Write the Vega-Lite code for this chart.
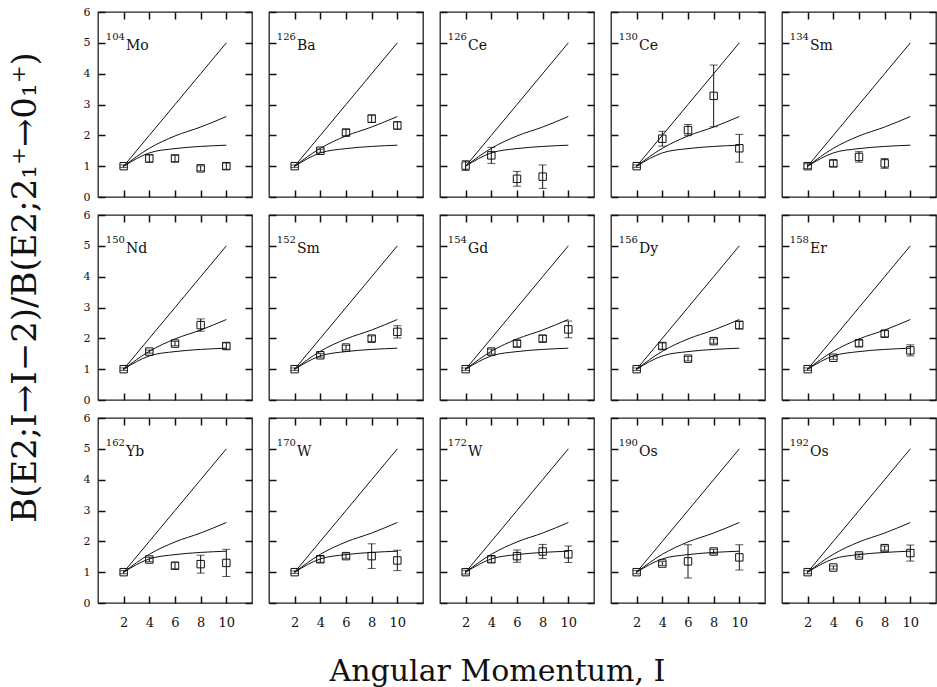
{
"$schema": "https://vega.github.io/schema/vega-lite/v6.json",
"padding": {"left": 7, "top": 5, "right": 0, "bottom": 0},
"background": "white",
"datasets": {
"theory": [
{"model":"U5","I":2,"ratio":1},{"model":"U5","I":4,"ratio":2},{"model":"U5","I":6,"ratio":3},{"model":"U5","I":8,"ratio":4},{"model":"U5","I":10,"ratio":5},
{"model":"X5","I":2,"ratio":1},{"model":"X5","I":4,"ratio":1.58},{"model":"X5","I":6,"ratio":1.98},{"model":"X5","I":8,"ratio":2.27},{"model":"X5","I":10,"ratio":2.61},
{"model":"SU3","I":2,"ratio":1},{"model":"SU3","I":4,"ratio":1.43},{"model":"SU3","I":6,"ratio":1.57},{"model":"SU3","I":8,"ratio":1.64},{"model":"SU3","I":10,"ratio":1.68}
],
"exp": [
{"nuc":"104Mo","I":2,"ratio":1.0,"err":0.04},{"nuc":"104Mo","I":4,"ratio":1.25,"err":0.12},{"nuc":"104Mo","I":6,"ratio":1.25,"err":0.1},{"nuc":"104Mo","I":8,"ratio":0.93,"err":0.08},{"nuc":"104Mo","I":10,"ratio":1.0,"err":0.1},
{"nuc":"126Ba","I":2,"ratio":1.0,"err":0.04},{"nuc":"126Ba","I":4,"ratio":1.5,"err":0.05},{"nuc":"126Ba","I":6,"ratio":2.09,"err":0.1},{"nuc":"126Ba","I":8,"ratio":2.54,"err":0.12},{"nuc":"126Ba","I":10,"ratio":2.32,"err":0.12},
{"nuc":"126Ce","I":2,"ratio":1.02,"err":0.16},{"nuc":"126Ce","I":4,"ratio":1.35,"err":0.26},{"nuc":"126Ce","I":6,"ratio":0.59,"err":0.24},{"nuc":"126Ce","I":8,"ratio":0.66,"err":0.38},
{"nuc":"130Ce","I":2,"ratio":1.0,"err":0.04},{"nuc":"130Ce","I":4,"ratio":1.89,"err":0.24},{"nuc":"130Ce","I":6,"ratio":2.17,"err":0.18},{"nuc":"130Ce","I":8,"ratio":3.28,"err":1.0},{"nuc":"130Ce","I":10,"ratio":1.58,"err":0.45},
{"nuc":"134Sm","I":2,"ratio":1.0,"err":0.08},{"nuc":"134Sm","I":4,"ratio":1.09,"err":0.1},{"nuc":"134Sm","I":6,"ratio":1.3,"err":0.17},{"nuc":"134Sm","I":8,"ratio":1.09,"err":0.16},
{"nuc":"150Nd","I":2,"ratio":1.0,"err":0.04},{"nuc":"150Nd","I":4,"ratio":1.57,"err":0.05},{"nuc":"150Nd","I":6,"ratio":1.83,"err":0.07},{"nuc":"150Nd","I":8,"ratio":2.43,"err":0.2},{"nuc":"150Nd","I":10,"ratio":1.75,"err":0.1},
{"nuc":"152Sm","I":2,"ratio":1.0,"err":0.04},{"nuc":"152Sm","I":4,"ratio":1.45,"err":0.06},{"nuc":"152Sm","I":6,"ratio":1.7,"err":0.07},{"nuc":"152Sm","I":8,"ratio":1.99,"err":0.09},{"nuc":"152Sm","I":10,"ratio":2.21,"err":0.2},
{"nuc":"154Gd","I":2,"ratio":1.0,"err":0.04},{"nuc":"154Gd","I":4,"ratio":1.57,"err":0.08},{"nuc":"154Gd","I":6,"ratio":1.83,"err":0.1},{"nuc":"154Gd","I":8,"ratio":1.99,"err":0.1},{"nuc":"154Gd","I":10,"ratio":2.29,"err":0.27},
{"nuc":"156Dy","I":2,"ratio":1.0,"err":0.04},{"nuc":"156Dy","I":4,"ratio":1.75,"err":0.1},{"nuc":"156Dy","I":6,"ratio":1.34,"err":0.07},{"nuc":"156Dy","I":8,"ratio":1.91,"err":0.07},{"nuc":"156Dy","I":10,"ratio":2.43,"err":0.13},
{"nuc":"158Er","I":2,"ratio":1.0,"err":0.04},{"nuc":"158Er","I":4,"ratio":1.37,"err":0.05},{"nuc":"158Er","I":6,"ratio":1.84,"err":0.1},{"nuc":"158Er","I":8,"ratio":2.15,"err":0.1},{"nuc":"158Er","I":10,"ratio":1.61,"err":0.18},
{"nuc":"162Yb","I":2,"ratio":1.0,"err":0.05},{"nuc":"162Yb","I":4,"ratio":1.41,"err":0.07},{"nuc":"162Yb","I":6,"ratio":1.21,"err":0.1},{"nuc":"162Yb","I":8,"ratio":1.26,"err":0.29},{"nuc":"162Yb","I":10,"ratio":1.3,"err":0.44},
{"nuc":"170W","I":2,"ratio":1.0,"err":0.04},{"nuc":"170W","I":4,"ratio":1.42,"err":0.1},{"nuc":"170W","I":6,"ratio":1.52,"err":0.07},{"nuc":"170W","I":8,"ratio":1.52,"err":0.4},{"nuc":"170W","I":10,"ratio":1.38,"err":0.33},
{"nuc":"172W","I":2,"ratio":1.0,"err":0.06},{"nuc":"172W","I":4,"ratio":1.42,"err":0.1},{"nuc":"172W","I":6,"ratio":1.52,"err":0.2},{"nuc":"172W","I":8,"ratio":1.67,"err":0.23},{"nuc":"172W","I":10,"ratio":1.58,"err":0.27},
{"nuc":"190Os","I":2,"ratio":1.0,"err":0.05},{"nuc":"190Os","I":4,"ratio":1.28,"err":0.06},{"nuc":"190Os","I":6,"ratio":1.35,"err":0.54},{"nuc":"190Os","I":8,"ratio":1.67,"err":0.07},{"nuc":"190Os","I":10,"ratio":1.48,"err":0.41},
{"nuc":"192Os","I":2,"ratio":1.0,"err":0.05},{"nuc":"192Os","I":4,"ratio":1.15,"err":0.05},{"nuc":"192Os","I":6,"ratio":1.54,"err":0.05},{"nuc":"192Os","I":8,"ratio":1.78,"err":0.07},{"nuc":"192Os","I":10,"ratio":1.62,"err":0.26}
]
},
"config": {
"view": {"stroke": "#222", "strokeWidth": 1.3},
"font": "DejaVu Serif",
"axis": {"grid": false, "domain": false, "offset": -7, "tickSize": 7, "tickWidth": 1.5, "tickColor": "#111", "labelFont": "DejaVu Serif", "labelColor": "#111", "titleFont": "DejaVu Serif", "titleFontWeight": "normal", "titleColor": "#111"},
"axisX": {"labelFontSize": 13, "labelPadding": 13},
"axisY": {"labelFontSize": 11, "labelPadding": 8}
},
"columns": 5,
"bounds": "flush",
"spacing": {"row": 18, "column": 17},
"concat": [
{"width":154,"height":185,"resolve":{"axis":{"x":"independent","y":"independent"}},"layer":[
{"data":{"name":"theory"},"mark":{"type":"line","interpolate":"monotone","color":"#111","strokeWidth":1},"encoding":{"x":{"field":"I","type":"quantitative","scale":{"domain":[0,12]},"axis":{"orient":"bottom","zindex":1,"values":[2,4,6,8,10],"labels":false,"title":null}},"y":{"field":"ratio","type":"quantitative","scale":{"domain":[0,6]},"axis":{"orient":"left","zindex":1,"values":[0,1,2,3,4,5,6],"labels":true,"title":null}},"detail":{"field":"model"}}},
{"data":{"name":"exp"},"transform":[{"filter":"datum.nuc == '104Mo'"}],"mark":{"type":"errorbar","color":"#111","thickness":1,"ticks":{"size":8,"color":"#111"}},"encoding":{"x":{"field":"I","type":"quantitative","scale":{"domain":[0,12]},"axis":null},"y":{"field":"ratio","type":"quantitative","scale":{"domain":[0,6]},"axis":null},"yError":{"field":"err"}}},
{"data":{"name":"exp"},"transform":[{"filter":"datum.nuc == '104Mo'"}],"mark":{"type":"point","shape":"square","filled":false,"size":55,"color":"#111","strokeWidth":1,"opacity":1},"encoding":{"x":{"field":"I","type":"quantitative","scale":{"domain":[0,12]},"axis":{"orient":"top","zindex":1,"values":[2,4,6,8,10],"labels":false,"title":null}},"y":{"field":"ratio","type":"quantitative","scale":{"domain":[0,6]},"axis":{"orient":"right","zindex":1,"values":[0,1,2,3,4,5,6],"labels":false,"title":null}}}},
{"data":{"values":[{}]},"mark":{"type":"text","text":"104","fontSize":10,"align":"right","baseline":"alphabetic","color":"#111"},"encoding":{"x":{"datum":2.1,"type":"quantitative","scale":{"domain":[0,12]},"axis":null},"y":{"datum":5.08,"type":"quantitative","scale":{"domain":[0,6]},"axis":null}}},
{"data":{"values":[{}]},"mark":{"type":"text","text":"Mo","fontSize":14,"align":"left","baseline":"alphabetic","color":"#111","dx":1},"encoding":{"x":{"datum":2.1,"type":"quantitative","scale":{"domain":[0,12]},"axis":null},"y":{"datum":4.76,"type":"quantitative","scale":{"domain":[0,6]},"axis":null}}}
]},
{"width":154,"height":185,"resolve":{"axis":{"x":"independent","y":"independent"}},"layer":[
{"data":{"name":"theory"},"mark":{"type":"line","interpolate":"monotone","color":"#111","strokeWidth":1},"encoding":{"x":{"field":"I","type":"quantitative","scale":{"domain":[0,12]},"axis":{"orient":"bottom","zindex":1,"values":[2,4,6,8,10],"labels":false,"title":null}},"y":{"field":"ratio","type":"quantitative","scale":{"domain":[0,6]},"axis":{"orient":"left","zindex":1,"values":[0,1,2,3,4,5,6],"labels":false,"title":null}},"detail":{"field":"model"}}},
{"data":{"name":"exp"},"transform":[{"filter":"datum.nuc == '126Ba'"}],"mark":{"type":"errorbar","color":"#111","thickness":1,"ticks":{"size":8,"color":"#111"}},"encoding":{"x":{"field":"I","type":"quantitative","scale":{"domain":[0,12]},"axis":null},"y":{"field":"ratio","type":"quantitative","scale":{"domain":[0,6]},"axis":null},"yError":{"field":"err"}}},
{"data":{"name":"exp"},"transform":[{"filter":"datum.nuc == '126Ba'"}],"mark":{"type":"point","shape":"square","filled":false,"size":55,"color":"#111","strokeWidth":1,"opacity":1},"encoding":{"x":{"field":"I","type":"quantitative","scale":{"domain":[0,12]},"axis":{"orient":"top","zindex":1,"values":[2,4,6,8,10],"labels":false,"title":null}},"y":{"field":"ratio","type":"quantitative","scale":{"domain":[0,6]},"axis":{"orient":"right","zindex":1,"values":[0,1,2,3,4,5,6],"labels":false,"title":null}}}},
{"data":{"values":[{}]},"mark":{"type":"text","text":"126","fontSize":10,"align":"right","baseline":"alphabetic","color":"#111"},"encoding":{"x":{"datum":2.1,"type":"quantitative","scale":{"domain":[0,12]},"axis":null},"y":{"datum":5.08,"type":"quantitative","scale":{"domain":[0,6]},"axis":null}}},
{"data":{"values":[{}]},"mark":{"type":"text","text":"Ba","fontSize":14,"align":"left","baseline":"alphabetic","color":"#111","dx":1},"encoding":{"x":{"datum":2.1,"type":"quantitative","scale":{"domain":[0,12]},"axis":null},"y":{"datum":4.76,"type":"quantitative","scale":{"domain":[0,6]},"axis":null}}}
]},
{"width":154,"height":185,"resolve":{"axis":{"x":"independent","y":"independent"}},"layer":[
{"data":{"name":"theory"},"mark":{"type":"line","interpolate":"monotone","color":"#111","strokeWidth":1},"encoding":{"x":{"field":"I","type":"quantitative","scale":{"domain":[0,12]},"axis":{"orient":"bottom","zindex":1,"values":[2,4,6,8,10],"labels":false,"title":null}},"y":{"field":"ratio","type":"quantitative","scale":{"domain":[0,6]},"axis":{"orient":"left","zindex":1,"values":[0,1,2,3,4,5,6],"labels":false,"title":null}},"detail":{"field":"model"}}},
{"data":{"name":"exp"},"transform":[{"filter":"datum.nuc == '126Ce'"}],"mark":{"type":"errorbar","color":"#111","thickness":1,"ticks":{"size":8,"color":"#111"}},"encoding":{"x":{"field":"I","type":"quantitative","scale":{"domain":[0,12]},"axis":null},"y":{"field":"ratio","type":"quantitative","scale":{"domain":[0,6]},"axis":null},"yError":{"field":"err"}}},
{"data":{"name":"exp"},"transform":[{"filter":"datum.nuc == '126Ce'"}],"mark":{"type":"point","shape":"square","filled":false,"size":55,"color":"#111","strokeWidth":1,"opacity":1},"encoding":{"x":{"field":"I","type":"quantitative","scale":{"domain":[0,12]},"axis":{"orient":"top","zindex":1,"values":[2,4,6,8,10],"labels":false,"title":null}},"y":{"field":"ratio","type":"quantitative","scale":{"domain":[0,6]},"axis":{"orient":"right","zindex":1,"values":[0,1,2,3,4,5,6],"labels":false,"title":null}}}},
{"data":{"values":[{}]},"mark":{"type":"text","text":"126","fontSize":10,"align":"right","baseline":"alphabetic","color":"#111"},"encoding":{"x":{"datum":2.1,"type":"quantitative","scale":{"domain":[0,12]},"axis":null},"y":{"datum":5.08,"type":"quantitative","scale":{"domain":[0,6]},"axis":null}}},
{"data":{"values":[{}]},"mark":{"type":"text","text":"Ce","fontSize":14,"align":"left","baseline":"alphabetic","color":"#111","dx":1},"encoding":{"x":{"datum":2.1,"type":"quantitative","scale":{"domain":[0,12]},"axis":null},"y":{"datum":4.76,"type":"quantitative","scale":{"domain":[0,6]},"axis":null}}}
]},
{"width":154,"height":185,"resolve":{"axis":{"x":"independent","y":"independent"}},"layer":[
{"data":{"name":"theory"},"mark":{"type":"line","interpolate":"monotone","color":"#111","strokeWidth":1},"encoding":{"x":{"field":"I","type":"quantitative","scale":{"domain":[0,12]},"axis":{"orient":"bottom","zindex":1,"values":[2,4,6,8,10],"labels":false,"title":null}},"y":{"field":"ratio","type":"quantitative","scale":{"domain":[0,6]},"axis":{"orient":"left","zindex":1,"values":[0,1,2,3,4,5,6],"labels":false,"title":null}},"detail":{"field":"model"}}},
{"data":{"name":"exp"},"transform":[{"filter":"datum.nuc == '130Ce'"}],"mark":{"type":"errorbar","color":"#111","thickness":1,"ticks":{"size":8,"color":"#111"}},"encoding":{"x":{"field":"I","type":"quantitative","scale":{"domain":[0,12]},"axis":null},"y":{"field":"ratio","type":"quantitative","scale":{"domain":[0,6]},"axis":null},"yError":{"field":"err"}}},
{"data":{"name":"exp"},"transform":[{"filter":"datum.nuc == '130Ce'"}],"mark":{"type":"point","shape":"square","filled":false,"size":55,"color":"#111","strokeWidth":1,"opacity":1},"encoding":{"x":{"field":"I","type":"quantitative","scale":{"domain":[0,12]},"axis":{"orient":"top","zindex":1,"values":[2,4,6,8,10],"labels":false,"title":null}},"y":{"field":"ratio","type":"quantitative","scale":{"domain":[0,6]},"axis":{"orient":"right","zindex":1,"values":[0,1,2,3,4,5,6],"labels":false,"title":null}}}},
{"data":{"values":[{}]},"mark":{"type":"text","text":"130","fontSize":10,"align":"right","baseline":"alphabetic","color":"#111"},"encoding":{"x":{"datum":2.1,"type":"quantitative","scale":{"domain":[0,12]},"axis":null},"y":{"datum":5.08,"type":"quantitative","scale":{"domain":[0,6]},"axis":null}}},
{"data":{"values":[{}]},"mark":{"type":"text","text":"Ce","fontSize":14,"align":"left","baseline":"alphabetic","color":"#111","dx":1},"encoding":{"x":{"datum":2.1,"type":"quantitative","scale":{"domain":[0,12]},"axis":null},"y":{"datum":4.76,"type":"quantitative","scale":{"domain":[0,6]},"axis":null}}}
]},
{"width":154,"height":185,"resolve":{"axis":{"x":"independent","y":"independent"}},"layer":[
{"data":{"name":"theory"},"mark":{"type":"line","interpolate":"monotone","color":"#111","strokeWidth":1},"encoding":{"x":{"field":"I","type":"quantitative","scale":{"domain":[0,12]},"axis":{"orient":"bottom","zindex":1,"values":[2,4,6,8,10],"labels":false,"title":null}},"y":{"field":"ratio","type":"quantitative","scale":{"domain":[0,6]},"axis":{"orient":"left","zindex":1,"values":[0,1,2,3,4,5,6],"labels":false,"title":null}},"detail":{"field":"model"}}},
{"data":{"name":"exp"},"transform":[{"filter":"datum.nuc == '134Sm'"}],"mark":{"type":"errorbar","color":"#111","thickness":1,"ticks":{"size":8,"color":"#111"}},"encoding":{"x":{"field":"I","type":"quantitative","scale":{"domain":[0,12]},"axis":null},"y":{"field":"ratio","type":"quantitative","scale":{"domain":[0,6]},"axis":null},"yError":{"field":"err"}}},
{"data":{"name":"exp"},"transform":[{"filter":"datum.nuc == '134Sm'"}],"mark":{"type":"point","shape":"square","filled":false,"size":55,"color":"#111","strokeWidth":1,"opacity":1},"encoding":{"x":{"field":"I","type":"quantitative","scale":{"domain":[0,12]},"axis":{"orient":"top","zindex":1,"values":[2,4,6,8,10],"labels":false,"title":null}},"y":{"field":"ratio","type":"quantitative","scale":{"domain":[0,6]},"axis":{"orient":"right","zindex":1,"values":[0,1,2,3,4,5,6],"labels":false,"title":null}}}},
{"data":{"values":[{}]},"mark":{"type":"text","text":"134","fontSize":10,"align":"right","baseline":"alphabetic","color":"#111"},"encoding":{"x":{"datum":2.1,"type":"quantitative","scale":{"domain":[0,12]},"axis":null},"y":{"datum":5.08,"type":"quantitative","scale":{"domain":[0,6]},"axis":null}}},
{"data":{"values":[{}]},"mark":{"type":"text","text":"Sm","fontSize":14,"align":"left","baseline":"alphabetic","color":"#111","dx":1},"encoding":{"x":{"datum":2.1,"type":"quantitative","scale":{"domain":[0,12]},"axis":null},"y":{"datum":4.76,"type":"quantitative","scale":{"domain":[0,6]},"axis":null}}}
]},
{"width":154,"height":185,"resolve":{"axis":{"x":"independent","y":"independent"}},"layer":[
{"data":{"name":"theory"},"mark":{"type":"line","interpolate":"monotone","color":"#111","strokeWidth":1},"encoding":{"x":{"field":"I","type":"quantitative","scale":{"domain":[0,12]},"axis":{"orient":"bottom","zindex":1,"values":[2,4,6,8,10],"labels":false,"title":null}},"y":{"field":"ratio","type":"quantitative","scale":{"domain":[0,6]},"axis":{"orient":"left","zindex":1,"values":[0,1,2,3,4,5,6],"labels":true,"title":"B(E2;I→I−2)/B(E2;2₁⁺→0₁⁺)","titleFontSize":34,"titlePadding":41,"titleY":72}},"detail":{"field":"model"}}},
{"data":{"name":"exp"},"transform":[{"filter":"datum.nuc == '150Nd'"}],"mark":{"type":"errorbar","color":"#111","thickness":1,"ticks":{"size":8,"color":"#111"}},"encoding":{"x":{"field":"I","type":"quantitative","scale":{"domain":[0,12]},"axis":null},"y":{"field":"ratio","type":"quantitative","scale":{"domain":[0,6]},"axis":null},"yError":{"field":"err"}}},
{"data":{"name":"exp"},"transform":[{"filter":"datum.nuc == '150Nd'"}],"mark":{"type":"point","shape":"square","filled":false,"size":55,"color":"#111","strokeWidth":1,"opacity":1},"encoding":{"x":{"field":"I","type":"quantitative","scale":{"domain":[0,12]},"axis":{"orient":"top","zindex":1,"values":[2,4,6,8,10],"labels":false,"title":null}},"y":{"field":"ratio","type":"quantitative","scale":{"domain":[0,6]},"axis":{"orient":"right","zindex":1,"values":[0,1,2,3,4,5,6],"labels":false,"title":null}}}},
{"data":{"values":[{}]},"mark":{"type":"text","text":"150","fontSize":10,"align":"right","baseline":"alphabetic","color":"#111"},"encoding":{"x":{"datum":2.1,"type":"quantitative","scale":{"domain":[0,12]},"axis":null},"y":{"datum":5.08,"type":"quantitative","scale":{"domain":[0,6]},"axis":null}}},
{"data":{"values":[{}]},"mark":{"type":"text","text":"Nd","fontSize":14,"align":"left","baseline":"alphabetic","color":"#111","dx":1},"encoding":{"x":{"datum":2.1,"type":"quantitative","scale":{"domain":[0,12]},"axis":null},"y":{"datum":4.76,"type":"quantitative","scale":{"domain":[0,6]},"axis":null}}}
]},
{"width":154,"height":185,"resolve":{"axis":{"x":"independent","y":"independent"}},"layer":[
{"data":{"name":"theory"},"mark":{"type":"line","interpolate":"monotone","color":"#111","strokeWidth":1},"encoding":{"x":{"field":"I","type":"quantitative","scale":{"domain":[0,12]},"axis":{"orient":"bottom","zindex":1,"values":[2,4,6,8,10],"labels":false,"title":null}},"y":{"field":"ratio","type":"quantitative","scale":{"domain":[0,6]},"axis":{"orient":"left","zindex":1,"values":[0,1,2,3,4,5,6],"labels":false,"title":null}},"detail":{"field":"model"}}},
{"data":{"name":"exp"},"transform":[{"filter":"datum.nuc == '152Sm'"}],"mark":{"type":"errorbar","color":"#111","thickness":1,"ticks":{"size":8,"color":"#111"}},"encoding":{"x":{"field":"I","type":"quantitative","scale":{"domain":[0,12]},"axis":null},"y":{"field":"ratio","type":"quantitative","scale":{"domain":[0,6]},"axis":null},"yError":{"field":"err"}}},
{"data":{"name":"exp"},"transform":[{"filter":"datum.nuc == '152Sm'"}],"mark":{"type":"point","shape":"square","filled":false,"size":55,"color":"#111","strokeWidth":1,"opacity":1},"encoding":{"x":{"field":"I","type":"quantitative","scale":{"domain":[0,12]},"axis":{"orient":"top","zindex":1,"values":[2,4,6,8,10],"labels":false,"title":null}},"y":{"field":"ratio","type":"quantitative","scale":{"domain":[0,6]},"axis":{"orient":"right","zindex":1,"values":[0,1,2,3,4,5,6],"labels":false,"title":null}}}},
{"data":{"values":[{}]},"mark":{"type":"text","text":"152","fontSize":10,"align":"right","baseline":"alphabetic","color":"#111"},"encoding":{"x":{"datum":2.1,"type":"quantitative","scale":{"domain":[0,12]},"axis":null},"y":{"datum":5.08,"type":"quantitative","scale":{"domain":[0,6]},"axis":null}}},
{"data":{"values":[{}]},"mark":{"type":"text","text":"Sm","fontSize":14,"align":"left","baseline":"alphabetic","color":"#111","dx":1},"encoding":{"x":{"datum":2.1,"type":"quantitative","scale":{"domain":[0,12]},"axis":null},"y":{"datum":4.76,"type":"quantitative","scale":{"domain":[0,6]},"axis":null}}}
]},
{"width":154,"height":185,"resolve":{"axis":{"x":"independent","y":"independent"}},"layer":[
{"data":{"name":"theory"},"mark":{"type":"line","interpolate":"monotone","color":"#111","strokeWidth":1},"encoding":{"x":{"field":"I","type":"quantitative","scale":{"domain":[0,12]},"axis":{"orient":"bottom","zindex":1,"values":[2,4,6,8,10],"labels":false,"title":null}},"y":{"field":"ratio","type":"quantitative","scale":{"domain":[0,6]},"axis":{"orient":"left","zindex":1,"values":[0,1,2,3,4,5,6],"labels":false,"title":null}},"detail":{"field":"model"}}},
{"data":{"name":"exp"},"transform":[{"filter":"datum.nuc == '154Gd'"}],"mark":{"type":"errorbar","color":"#111","thickness":1,"ticks":{"size":8,"color":"#111"}},"encoding":{"x":{"field":"I","type":"quantitative","scale":{"domain":[0,12]},"axis":null},"y":{"field":"ratio","type":"quantitative","scale":{"domain":[0,6]},"axis":null},"yError":{"field":"err"}}},
{"data":{"name":"exp"},"transform":[{"filter":"datum.nuc == '154Gd'"}],"mark":{"type":"point","shape":"square","filled":false,"size":55,"color":"#111","strokeWidth":1,"opacity":1},"encoding":{"x":{"field":"I","type":"quantitative","scale":{"domain":[0,12]},"axis":{"orient":"top","zindex":1,"values":[2,4,6,8,10],"labels":false,"title":null}},"y":{"field":"ratio","type":"quantitative","scale":{"domain":[0,6]},"axis":{"orient":"right","zindex":1,"values":[0,1,2,3,4,5,6],"labels":false,"title":null}}}},
{"data":{"values":[{}]},"mark":{"type":"text","text":"154","fontSize":10,"align":"right","baseline":"alphabetic","color":"#111"},"encoding":{"x":{"datum":2.1,"type":"quantitative","scale":{"domain":[0,12]},"axis":null},"y":{"datum":5.08,"type":"quantitative","scale":{"domain":[0,6]},"axis":null}}},
{"data":{"values":[{}]},"mark":{"type":"text","text":"Gd","fontSize":14,"align":"left","baseline":"alphabetic","color":"#111","dx":1},"encoding":{"x":{"datum":2.1,"type":"quantitative","scale":{"domain":[0,12]},"axis":null},"y":{"datum":4.76,"type":"quantitative","scale":{"domain":[0,6]},"axis":null}}}
]},
{"width":154,"height":185,"resolve":{"axis":{"x":"independent","y":"independent"}},"layer":[
{"data":{"name":"theory"},"mark":{"type":"line","interpolate":"monotone","color":"#111","strokeWidth":1},"encoding":{"x":{"field":"I","type":"quantitative","scale":{"domain":[0,12]},"axis":{"orient":"bottom","zindex":1,"values":[2,4,6,8,10],"labels":false,"title":null}},"y":{"field":"ratio","type":"quantitative","scale":{"domain":[0,6]},"axis":{"orient":"left","zindex":1,"values":[0,1,2,3,4,5,6],"labels":false,"title":null}},"detail":{"field":"model"}}},
{"data":{"name":"exp"},"transform":[{"filter":"datum.nuc == '156Dy'"}],"mark":{"type":"errorbar","color":"#111","thickness":1,"ticks":{"size":8,"color":"#111"}},"encoding":{"x":{"field":"I","type":"quantitative","scale":{"domain":[0,12]},"axis":null},"y":{"field":"ratio","type":"quantitative","scale":{"domain":[0,6]},"axis":null},"yError":{"field":"err"}}},
{"data":{"name":"exp"},"transform":[{"filter":"datum.nuc == '156Dy'"}],"mark":{"type":"point","shape":"square","filled":false,"size":55,"color":"#111","strokeWidth":1,"opacity":1},"encoding":{"x":{"field":"I","type":"quantitative","scale":{"domain":[0,12]},"axis":{"orient":"top","zindex":1,"values":[2,4,6,8,10],"labels":false,"title":null}},"y":{"field":"ratio","type":"quantitative","scale":{"domain":[0,6]},"axis":{"orient":"right","zindex":1,"values":[0,1,2,3,4,5,6],"labels":false,"title":null}}}},
{"data":{"values":[{}]},"mark":{"type":"text","text":"156","fontSize":10,"align":"right","baseline":"alphabetic","color":"#111"},"encoding":{"x":{"datum":2.1,"type":"quantitative","scale":{"domain":[0,12]},"axis":null},"y":{"datum":5.08,"type":"quantitative","scale":{"domain":[0,6]},"axis":null}}},
{"data":{"values":[{}]},"mark":{"type":"text","text":"Dy","fontSize":14,"align":"left","baseline":"alphabetic","color":"#111","dx":1},"encoding":{"x":{"datum":2.1,"type":"quantitative","scale":{"domain":[0,12]},"axis":null},"y":{"datum":4.76,"type":"quantitative","scale":{"domain":[0,6]},"axis":null}}}
]},
{"width":154,"height":185,"resolve":{"axis":{"x":"independent","y":"independent"}},"layer":[
{"data":{"name":"theory"},"mark":{"type":"line","interpolate":"monotone","color":"#111","strokeWidth":1},"encoding":{"x":{"field":"I","type":"quantitative","scale":{"domain":[0,12]},"axis":{"orient":"bottom","zindex":1,"values":[2,4,6,8,10],"labels":false,"title":null}},"y":{"field":"ratio","type":"quantitative","scale":{"domain":[0,6]},"axis":{"orient":"left","zindex":1,"values":[0,1,2,3,4,5,6],"labels":false,"title":null}},"detail":{"field":"model"}}},
{"data":{"name":"exp"},"transform":[{"filter":"datum.nuc == '158Er'"}],"mark":{"type":"errorbar","color":"#111","thickness":1,"ticks":{"size":8,"color":"#111"}},"encoding":{"x":{"field":"I","type":"quantitative","scale":{"domain":[0,12]},"axis":null},"y":{"field":"ratio","type":"quantitative","scale":{"domain":[0,6]},"axis":null},"yError":{"field":"err"}}},
{"data":{"name":"exp"},"transform":[{"filter":"datum.nuc == '158Er'"}],"mark":{"type":"point","shape":"square","filled":false,"size":55,"color":"#111","strokeWidth":1,"opacity":1},"encoding":{"x":{"field":"I","type":"quantitative","scale":{"domain":[0,12]},"axis":{"orient":"top","zindex":1,"values":[2,4,6,8,10],"labels":false,"title":null}},"y":{"field":"ratio","type":"quantitative","scale":{"domain":[0,6]},"axis":{"orient":"right","zindex":1,"values":[0,1,2,3,4,5,6],"labels":false,"title":null}}}},
{"data":{"values":[{}]},"mark":{"type":"text","text":"158","fontSize":10,"align":"right","baseline":"alphabetic","color":"#111"},"encoding":{"x":{"datum":2.1,"type":"quantitative","scale":{"domain":[0,12]},"axis":null},"y":{"datum":5.08,"type":"quantitative","scale":{"domain":[0,6]},"axis":null}}},
{"data":{"values":[{}]},"mark":{"type":"text","text":"Er","fontSize":14,"align":"left","baseline":"alphabetic","color":"#111","dx":1},"encoding":{"x":{"datum":2.1,"type":"quantitative","scale":{"domain":[0,12]},"axis":null},"y":{"datum":4.76,"type":"quantitative","scale":{"domain":[0,6]},"axis":null}}}
]},
{"width":154,"height":185,"resolve":{"axis":{"x":"independent","y":"independent"}},"layer":[
{"data":{"name":"theory"},"mark":{"type":"line","interpolate":"monotone","color":"#111","strokeWidth":1},"encoding":{"x":{"field":"I","type":"quantitative","scale":{"domain":[0,12]},"axis":{"orient":"bottom","zindex":1,"values":[2,4,6,8,10],"labels":true,"title":null}},"y":{"field":"ratio","type":"quantitative","scale":{"domain":[0,6]},"axis":{"orient":"left","zindex":1,"values":[0,1,2,3,4,5,6],"labels":true,"title":null}},"detail":{"field":"model"}}},
{"data":{"name":"exp"},"transform":[{"filter":"datum.nuc == '162Yb'"}],"mark":{"type":"errorbar","color":"#111","thickness":1,"ticks":{"size":8,"color":"#111"}},"encoding":{"x":{"field":"I","type":"quantitative","scale":{"domain":[0,12]},"axis":null},"y":{"field":"ratio","type":"quantitative","scale":{"domain":[0,6]},"axis":null},"yError":{"field":"err"}}},
{"data":{"name":"exp"},"transform":[{"filter":"datum.nuc == '162Yb'"}],"mark":{"type":"point","shape":"square","filled":false,"size":55,"color":"#111","strokeWidth":1,"opacity":1},"encoding":{"x":{"field":"I","type":"quantitative","scale":{"domain":[0,12]},"axis":{"orient":"top","zindex":1,"values":[2,4,6,8,10],"labels":false,"title":null}},"y":{"field":"ratio","type":"quantitative","scale":{"domain":[0,6]},"axis":{"orient":"right","zindex":1,"values":[0,1,2,3,4,5,6],"labels":false,"title":null}}}},
{"data":{"values":[{}]},"mark":{"type":"text","text":"162","fontSize":10,"align":"right","baseline":"alphabetic","color":"#111"},"encoding":{"x":{"datum":2.1,"type":"quantitative","scale":{"domain":[0,12]},"axis":null},"y":{"datum":5.08,"type":"quantitative","scale":{"domain":[0,6]},"axis":null}}},
{"data":{"values":[{}]},"mark":{"type":"text","text":"Yb","fontSize":14,"align":"left","baseline":"alphabetic","color":"#111","dx":1},"encoding":{"x":{"datum":2.1,"type":"quantitative","scale":{"domain":[0,12]},"axis":null},"y":{"datum":4.76,"type":"quantitative","scale":{"domain":[0,6]},"axis":null}}}
]},
{"width":154,"height":185,"resolve":{"axis":{"x":"independent","y":"independent"}},"layer":[
{"data":{"name":"theory"},"mark":{"type":"line","interpolate":"monotone","color":"#111","strokeWidth":1},"encoding":{"x":{"field":"I","type":"quantitative","scale":{"domain":[0,12]},"axis":{"orient":"bottom","zindex":1,"values":[2,4,6,8,10],"labels":true,"title":null}},"y":{"field":"ratio","type":"quantitative","scale":{"domain":[0,6]},"axis":{"orient":"left","zindex":1,"values":[0,1,2,3,4,5,6],"labels":false,"title":null}},"detail":{"field":"model"}}},
{"data":{"name":"exp"},"transform":[{"filter":"datum.nuc == '170W'"}],"mark":{"type":"errorbar","color":"#111","thickness":1,"ticks":{"size":8,"color":"#111"}},"encoding":{"x":{"field":"I","type":"quantitative","scale":{"domain":[0,12]},"axis":null},"y":{"field":"ratio","type":"quantitative","scale":{"domain":[0,6]},"axis":null},"yError":{"field":"err"}}},
{"data":{"name":"exp"},"transform":[{"filter":"datum.nuc == '170W'"}],"mark":{"type":"point","shape":"square","filled":false,"size":55,"color":"#111","strokeWidth":1,"opacity":1},"encoding":{"x":{"field":"I","type":"quantitative","scale":{"domain":[0,12]},"axis":{"orient":"top","zindex":1,"values":[2,4,6,8,10],"labels":false,"title":null}},"y":{"field":"ratio","type":"quantitative","scale":{"domain":[0,6]},"axis":{"orient":"right","zindex":1,"values":[0,1,2,3,4,5,6],"labels":false,"title":null}}}},
{"data":{"values":[{}]},"mark":{"type":"text","text":"170","fontSize":10,"align":"right","baseline":"alphabetic","color":"#111"},"encoding":{"x":{"datum":2.1,"type":"quantitative","scale":{"domain":[0,12]},"axis":null},"y":{"datum":5.08,"type":"quantitative","scale":{"domain":[0,6]},"axis":null}}},
{"data":{"values":[{}]},"mark":{"type":"text","text":"W","fontSize":14,"align":"left","baseline":"alphabetic","color":"#111","dx":1},"encoding":{"x":{"datum":2.1,"type":"quantitative","scale":{"domain":[0,12]},"axis":null},"y":{"datum":4.76,"type":"quantitative","scale":{"domain":[0,6]},"axis":null}}}
]},
{"width":154,"height":185,"resolve":{"axis":{"x":"independent","y":"independent"}},"layer":[
{"data":{"name":"theory"},"mark":{"type":"line","interpolate":"monotone","color":"#111","strokeWidth":1},"encoding":{"x":{"field":"I","type":"quantitative","scale":{"domain":[0,12]},"axis":{"orient":"bottom","zindex":1,"values":[2,4,6,8,10],"labels":true,"title":"Angular Momentum, I","titleFontSize":30,"titlePadding":27,"titleX":57}},"y":{"field":"ratio","type":"quantitative","scale":{"domain":[0,6]},"axis":{"orient":"left","zindex":1,"values":[0,1,2,3,4,5,6],"labels":false,"title":null}},"detail":{"field":"model"}}},
{"data":{"name":"exp"},"transform":[{"filter":"datum.nuc == '172W'"}],"mark":{"type":"errorbar","color":"#111","thickness":1,"ticks":{"size":8,"color":"#111"}},"encoding":{"x":{"field":"I","type":"quantitative","scale":{"domain":[0,12]},"axis":null},"y":{"field":"ratio","type":"quantitative","scale":{"domain":[0,6]},"axis":null},"yError":{"field":"err"}}},
{"data":{"name":"exp"},"transform":[{"filter":"datum.nuc == '172W'"}],"mark":{"type":"point","shape":"square","filled":false,"size":55,"color":"#111","strokeWidth":1,"opacity":1},"encoding":{"x":{"field":"I","type":"quantitative","scale":{"domain":[0,12]},"axis":{"orient":"top","zindex":1,"values":[2,4,6,8,10],"labels":false,"title":null}},"y":{"field":"ratio","type":"quantitative","scale":{"domain":[0,6]},"axis":{"orient":"right","zindex":1,"values":[0,1,2,3,4,5,6],"labels":false,"title":null}}}},
{"data":{"values":[{}]},"mark":{"type":"text","text":"172","fontSize":10,"align":"right","baseline":"alphabetic","color":"#111"},"encoding":{"x":{"datum":2.1,"type":"quantitative","scale":{"domain":[0,12]},"axis":null},"y":{"datum":5.08,"type":"quantitative","scale":{"domain":[0,6]},"axis":null}}},
{"data":{"values":[{}]},"mark":{"type":"text","text":"W","fontSize":14,"align":"left","baseline":"alphabetic","color":"#111","dx":1},"encoding":{"x":{"datum":2.1,"type":"quantitative","scale":{"domain":[0,12]},"axis":null},"y":{"datum":4.76,"type":"quantitative","scale":{"domain":[0,6]},"axis":null}}}
]},
{"width":154,"height":185,"resolve":{"axis":{"x":"independent","y":"independent"}},"layer":[
{"data":{"name":"theory"},"mark":{"type":"line","interpolate":"monotone","color":"#111","strokeWidth":1},"encoding":{"x":{"field":"I","type":"quantitative","scale":{"domain":[0,12]},"axis":{"orient":"bottom","zindex":1,"values":[2,4,6,8,10],"labels":true,"title":null}},"y":{"field":"ratio","type":"quantitative","scale":{"domain":[0,6]},"axis":{"orient":"left","zindex":1,"values":[0,1,2,3,4,5,6],"labels":false,"title":null}},"detail":{"field":"model"}}},
{"data":{"name":"exp"},"transform":[{"filter":"datum.nuc == '190Os'"}],"mark":{"type":"errorbar","color":"#111","thickness":1,"ticks":{"size":8,"color":"#111"}},"encoding":{"x":{"field":"I","type":"quantitative","scale":{"domain":[0,12]},"axis":null},"y":{"field":"ratio","type":"quantitative","scale":{"domain":[0,6]},"axis":null},"yError":{"field":"err"}}},
{"data":{"name":"exp"},"transform":[{"filter":"datum.nuc == '190Os'"}],"mark":{"type":"point","shape":"square","filled":false,"size":55,"color":"#111","strokeWidth":1,"opacity":1},"encoding":{"x":{"field":"I","type":"quantitative","scale":{"domain":[0,12]},"axis":{"orient":"top","zindex":1,"values":[2,4,6,8,10],"labels":false,"title":null}},"y":{"field":"ratio","type":"quantitative","scale":{"domain":[0,6]},"axis":{"orient":"right","zindex":1,"values":[0,1,2,3,4,5,6],"labels":false,"title":null}}}},
{"data":{"values":[{}]},"mark":{"type":"text","text":"190","fontSize":10,"align":"right","baseline":"alphabetic","color":"#111"},"encoding":{"x":{"datum":2.1,"type":"quantitative","scale":{"domain":[0,12]},"axis":null},"y":{"datum":5.08,"type":"quantitative","scale":{"domain":[0,6]},"axis":null}}},
{"data":{"values":[{}]},"mark":{"type":"text","text":"Os","fontSize":14,"align":"left","baseline":"alphabetic","color":"#111","dx":1},"encoding":{"x":{"datum":2.1,"type":"quantitative","scale":{"domain":[0,12]},"axis":null},"y":{"datum":4.76,"type":"quantitative","scale":{"domain":[0,6]},"axis":null}}}
]},
{"width":154,"height":185,"resolve":{"axis":{"x":"independent","y":"independent"}},"layer":[
{"data":{"name":"theory"},"mark":{"type":"line","interpolate":"monotone","color":"#111","strokeWidth":1},"encoding":{"x":{"field":"I","type":"quantitative","scale":{"domain":[0,12]},"axis":{"orient":"bottom","zindex":1,"values":[2,4,6,8,10],"labels":true,"title":null}},"y":{"field":"ratio","type":"quantitative","scale":{"domain":[0,6]},"axis":{"orient":"left","zindex":1,"values":[0,1,2,3,4,5,6],"labels":false,"title":null}},"detail":{"field":"model"}}},
{"data":{"name":"exp"},"transform":[{"filter":"datum.nuc == '192Os'"}],"mark":{"type":"errorbar","color":"#111","thickness":1,"ticks":{"size":8,"color":"#111"}},"encoding":{"x":{"field":"I","type":"quantitative","scale":{"domain":[0,12]},"axis":null},"y":{"field":"ratio","type":"quantitative","scale":{"domain":[0,6]},"axis":null},"yError":{"field":"err"}}},
{"data":{"name":"exp"},"transform":[{"filter":"datum.nuc == '192Os'"}],"mark":{"type":"point","shape":"square","filled":false,"size":55,"color":"#111","strokeWidth":1,"opacity":1},"encoding":{"x":{"field":"I","type":"quantitative","scale":{"domain":[0,12]},"axis":{"orient":"top","zindex":1,"values":[2,4,6,8,10],"labels":false,"title":null}},"y":{"field":"ratio","type":"quantitative","scale":{"domain":[0,6]},"axis":{"orient":"right","zindex":1,"values":[0,1,2,3,4,5,6],"labels":false,"title":null}}}},
{"data":{"values":[{}]},"mark":{"type":"text","text":"192","fontSize":10,"align":"right","baseline":"alphabetic","color":"#111"},"encoding":{"x":{"datum":2.1,"type":"quantitative","scale":{"domain":[0,12]},"axis":null},"y":{"datum":5.08,"type":"quantitative","scale":{"domain":[0,6]},"axis":null}}},
{"data":{"values":[{}]},"mark":{"type":"text","text":"Os","fontSize":14,"align":"left","baseline":"alphabetic","color":"#111","dx":1},"encoding":{"x":{"datum":2.1,"type":"quantitative","scale":{"domain":[0,12]},"axis":null},"y":{"datum":4.76,"type":"quantitative","scale":{"domain":[0,6]},"axis":null}}}
]}
]
}
